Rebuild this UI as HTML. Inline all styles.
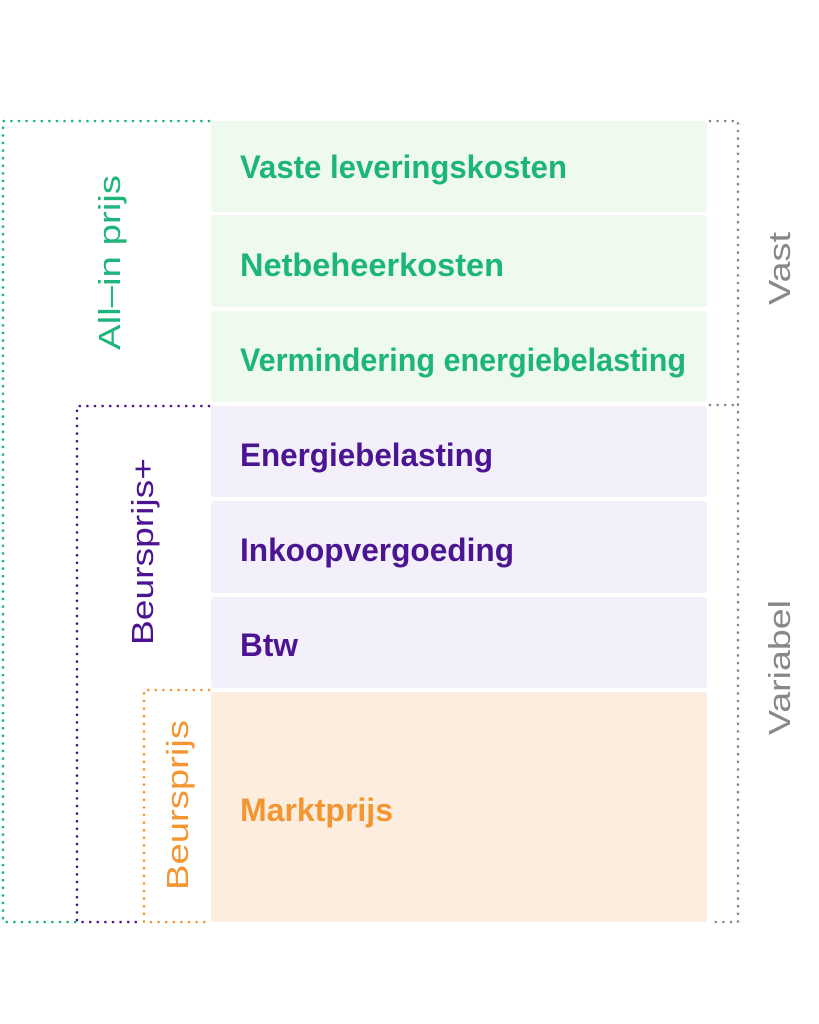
<!DOCTYPE html>
<html><head><meta charset="utf-8"><style>
html,body{margin:0;padding:0;background:#fff;}
svg{display:block;}
text{font-family:"Liberation Sans",sans-serif;}
.b{font-weight:bold;font-size:32px;}
.v{font-size:31px;}
</style></head><body>
<svg width="819" height="1024" viewBox="0 0 819 1024" xmlns="http://www.w3.org/2000/svg">
<g>
<rect x="211" y="121" width="496" height="91" rx="3" fill="#eefaee"/>
<rect x="211" y="215" width="496" height="92" rx="3" fill="#eefaee"/>
<rect x="211" y="311" width="496" height="91" rx="3" fill="#eefaee"/>
<rect x="211" y="406" width="496" height="91" rx="3" fill="#f3f0fb"/>
<rect x="211" y="501" width="496" height="92" rx="3" fill="#f3f0fb"/>
<rect x="211" y="597" width="496" height="91" rx="3" fill="#f3f0fb"/>
<rect x="211" y="692" width="496" height="230" rx="3" fill="#fdedde"/>
</g>
<g class="b">
<text x="240" y="178" fill="#1db57a" textLength="327" lengthAdjust="spacingAndGlyphs">Vaste leveringskosten</text>
<text x="240" y="276" fill="#1db57a" textLength="264" lengthAdjust="spacingAndGlyphs">Netbeheerkosten</text>
<text x="240" y="371" fill="#1db57a" textLength="446" lengthAdjust="spacingAndGlyphs">Vermindering energiebelasting</text>
<text x="240" y="466" fill="#4b1591" textLength="253" lengthAdjust="spacingAndGlyphs">Energiebelasting</text>
<text x="240" y="561" fill="#4b1591" textLength="274" lengthAdjust="spacingAndGlyphs">Inkoopvergoeding</text>
<text x="240" y="656" fill="#4b1591" textLength="58" lengthAdjust="spacingAndGlyphs">Btw</text>
<text x="240" y="821" fill="#f39531" textLength="153" lengthAdjust="spacingAndGlyphs">Marktprijs</text>
</g>
<g fill="none" stroke-width="2.6" stroke-linecap="round" stroke-dasharray="0 7.6">
<path d="M209 121 H3 V922 H76" stroke="#1db57a"/>
<path d="M209 406 H77 V922 H143" stroke="#4b1591"/>
<path d="M209 690 H144 V922 H209" stroke="#f39531"/>
<path d="M710 121 H738 V922 H710 M710 405 H738" stroke="#888"/>
</g>
<g class="v">
<text transform="translate(120,350) rotate(-90)" fill="#1db57a" textLength="175" lengthAdjust="spacingAndGlyphs">All–in prijs</text>
<text transform="translate(153,645) rotate(-90)" fill="#4b1591" textLength="187" lengthAdjust="spacingAndGlyphs">Beursprijs+</text>
<text transform="translate(188,890) rotate(-90)" fill="#f39531" textLength="170" lengthAdjust="spacingAndGlyphs">Beursprijs</text>
<text transform="translate(790,305) rotate(-90)" fill="#888" textLength="73" lengthAdjust="spacingAndGlyphs">Vast</text>
<text transform="translate(790,735) rotate(-90)" fill="#888" textLength="135" lengthAdjust="spacingAndGlyphs">Variabel</text>
</g>
</svg>
</body></html>
